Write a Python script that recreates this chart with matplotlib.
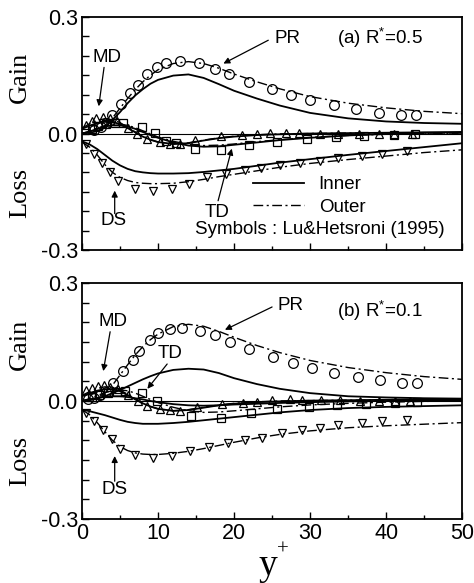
import numpy as np
import matplotlib
matplotlib.use("Agg")
import matplotlib.pyplot as plt
from matplotlib.lines import Line2D

plt.rcParams['font.family'] = ['Liberation Sans', 'DejaVu Sans']
plt.rcParams['mathtext.fontset'] = 'custom'
plt.rcParams['mathtext.rm'] = 'Liberation Sans'
plt.rcParams['mathtext.it'] = 'Liberation Sans'

# common y+ stations for the model curves
yl = [0, 1, 2, 3, 4, 5, 6, 7, 8, 9, 10, 12, 14, 16, 18, 20, 23, 26, 30, 35, 40, 45, 50]

# ---- (a) R*=0.5 ----
a_pr_in = [0.0, 0.002, 0.006, 0.015, 0.035, 0.055, 0.078, 0.098, 0.114, 0.128, 0.138, 0.149, 0.152,
           0.143, 0.127, 0.11, 0.09, 0.072, 0.053, 0.039, 0.031, 0.027, 0.025]
a_pr_out = [0.0, 0.003, 0.008, 0.02, 0.04, 0.065, 0.09, 0.113, 0.133, 0.15, 0.164, 0.18, 0.185,
            0.18, 0.168, 0.153, 0.133, 0.115, 0.095, 0.078, 0.066, 0.057, 0.051]
a_md_in = [0.012, 0.02, 0.027, 0.03, 0.03, 0.024, 0.014, 0.003, -0.008, -0.016, -0.022, -0.027, -0.025,
           -0.018, -0.012, -0.008, -0.004, -0.002, 0.0, 0.001, 0.002, 0.003, 0.003]
a_md_out = [0.014, 0.025, 0.034, 0.038, 0.036, 0.028, 0.016, 0.004, -0.007, -0.016, -0.022, -0.027, -0.024,
            -0.017, -0.011, -0.007, -0.003, -0.001, 0.0, 0.001, 0.001, 0.001, 0.001]
a_td_in = [0.0, 0.005, 0.012, 0.018, 0.021, 0.021, 0.018, 0.012, 0.004, -0.004, -0.011, -0.023, -0.031,
           -0.034, -0.033, -0.029, -0.023, -0.017, -0.011, -0.005, -0.001, 0.002, 0.004]
a_td_out = [0.0, 0.006, 0.014, 0.02, 0.024, 0.024, 0.021, 0.015, 0.007, -0.001, -0.009, -0.02, -0.028,
            -0.031, -0.03, -0.027, -0.021, -0.016, -0.01, -0.005, -0.002, 0.0, 0.001]
a_ds_in = [-0.02, -0.028, -0.04, -0.055, -0.07, -0.082, -0.091, -0.097, -0.1, -0.102, -0.103, -0.103, -0.102,
           -0.099, -0.095, -0.091, -0.083, -0.075, -0.066, -0.055, -0.045, -0.035, -0.025]
a_ds_out = [-0.022, -0.035, -0.055, -0.08, -0.1, -0.113, -0.121, -0.126, -0.128, -0.129, -0.129, -0.128, -0.124,
            -0.118, -0.111, -0.105, -0.096, -0.087, -0.077, -0.067, -0.058, -0.049, -0.042]

a_pr_sy = [1.6, 2.5, 3.2, 3.9, 5.1, 6.3, 7.3, 8.6, 9.9, 11.1, 12.9, 15.4, 17.5, 19.4, 21.9, 25.0, 27.5,
           30.0, 33.1, 36.1, 39.1, 41.9, 43.9]
a_pr_sv = [0.01, 0.017, 0.027, 0.048, 0.077, 0.104, 0.126, 0.152, 0.172, 0.181, 0.187, 0.181, 0.167,
           0.154, 0.133, 0.114, 0.099, 0.087, 0.073, 0.064, 0.054, 0.048, 0.047]
a_md_sy = [0.5, 1.3, 1.9, 2.8, 3.7, 4.6, 6.1, 7.2, 8.5, 10.3, 11.6, 12.9, 14.9, 18.3, 21.0, 23.0, 24.7,
           26.8, 28.6, 31.3, 33.7, 36.4, 39.0, 41.1, 43.4]
a_md_sv = [0.022, 0.033, 0.041, 0.043, 0.041, 0.032, 0.015, -0.002, -0.015, -0.023, -0.026, -0.026,
           -0.017, -0.006, -0.003, 0.0, 0.001, 0.001, 0.001, 0.0, 0.0, 0.0, 0.0, 0.0, 0.0]
a_td_sy = [1.3, 2.1, 3.2, 4.3, 5.4, 7.9, 9.6, 11.1, 12.3, 14.8, 18.3, 22.0, 25.6, 29.6, 33.4, 37.1, 41.0, 43.8]
a_td_sv = [0.011, 0.02, 0.025, 0.028, 0.026, 0.017, 0.001, -0.019, -0.024, -0.04, -0.042, -0.029, -0.022,
           -0.015, -0.01, -0.007, -0.003, -0.001]
a_ds_sy = [0.5, 1.6, 2.6, 3.7, 4.8, 7.0, 9.4, 11.8, 14.1, 16.5, 19.0, 21.4, 23.6, 26.1, 28.7, 31.3, 33.7,
           36.8, 39.4, 42.7]
a_ds_sv = [-0.027, -0.052, -0.075, -0.098, -0.122, -0.143, -0.148, -0.143, -0.13, -0.113, -0.105, -0.094,
           -0.089, -0.081, -0.075, -0.07, -0.062, -0.058, -0.053, -0.046]

# ---- (b) R*=0.1 ----
b_pr_in = [0.0, 0.002, 0.006, 0.012, 0.02, 0.028, 0.037, 0.046, 0.055, 0.063, 0.07, 0.079, 0.082,
           0.08, 0.071, 0.058, 0.043, 0.031, 0.02, 0.012, 0.009, 0.007, 0.006]
b_pr_out = [0.0, 0.003, 0.008, 0.02, 0.04, 0.066, 0.092, 0.117, 0.138, 0.156, 0.17, 0.189, 0.195,
            0.19, 0.177, 0.162, 0.141, 0.123, 0.103, 0.085, 0.072, 0.062, 0.055]
b_md_in = [0.012, 0.02, 0.026, 0.03, 0.03, 0.025, 0.015, 0.004, -0.006, -0.014, -0.02, -0.025, -0.023,
           -0.017, -0.011, -0.007, -0.003, -0.001, 0.001, 0.002, 0.003, 0.004, 0.004]
b_md_out = [0.014, 0.024, 0.032, 0.036, 0.035, 0.028, 0.017, 0.005, -0.006, -0.014, -0.02, -0.025, -0.022,
            -0.016, -0.01, -0.006, -0.002, 0.0, 0.001, 0.002, 0.002, 0.002, 0.002]
b_td_in = [0.0, 0.004, 0.008, 0.011, 0.012, 0.012, 0.01, 0.007, 0.004, 0.0, -0.003, -0.008, -0.011,
           -0.012, -0.011, -0.009, -0.007, -0.005, -0.003, -0.001, 0.0, 0.001, 0.002]
b_td_out = [0.0, 0.006, 0.014, 0.021, 0.026, 0.028, 0.026, 0.02, 0.012, 0.004, -0.004, -0.016, -0.025,
            -0.029, -0.028, -0.025, -0.02, -0.015, -0.01, -0.006, -0.003, -0.001, 0.0]
b_ds_in = [-0.022, -0.026, -0.031, -0.036, -0.042, -0.048, -0.053, -0.056, -0.058, -0.058, -0.058, -0.056,
           -0.053, -0.049, -0.045, -0.041, -0.035, -0.029, -0.023, -0.018, -0.015, -0.013, -0.011]
b_ds_out = [-0.022, -0.035, -0.055, -0.078, -0.1, -0.116, -0.126, -0.132, -0.135, -0.136, -0.136, -0.133,
            -0.128, -0.121, -0.113, -0.105, -0.094, -0.085, -0.076, -0.068, -0.063, -0.059, -0.055]

b_pr_sy = [0.8, 1.6, 2.4, 3.2, 4.1, 5.4, 6.7, 7.5, 8.9, 10.0, 11.6, 13.1, 15.5, 17.5, 19.5, 21.9, 25.1,
           27.7, 30.2, 33.2, 36.3, 39.2, 42.1, 44.0]
b_pr_sv = [0.004, 0.008, 0.014, 0.022, 0.045, 0.076, 0.103, 0.127, 0.154, 0.174, 0.184, 0.186, 0.178,
           0.167, 0.151, 0.131, 0.113, 0.097, 0.085, 0.07, 0.062, 0.053, 0.047, 0.045]
b_md_sy = [0.5, 1.3, 2.1, 2.9, 3.7, 4.8, 6.1, 7.4, 8.5, 10.3, 11.6, 12.9, 15.1, 18.4, 21.2, 23.0, 25.0,
           27.4, 28.9, 31.4, 33.9, 36.5, 39.0, 41.2, 43.2]
b_md_sv = [0.027, 0.034, 0.038, 0.04, 0.036, 0.03, 0.014, 0.0, -0.013, -0.021, -0.023, -0.025, -0.015,
           -0.008, -0.004, -0.002, 0.003, 0.004, 0.003, 0.003, 0.003, 0.0, 0.0, 0.0, 0.0]
b_td_sy = [1.3, 2.3, 3.4, 4.6, 5.7, 7.9, 9.9, 14.3, 18.3, 22.2, 25.7, 29.8, 33.5, 37.3, 41.2, 44.0]
b_td_sv = [0.011, 0.016, 0.02, 0.023, 0.026, 0.02, 0.001, -0.037, -0.043, -0.03, -0.021, -0.015, -0.011,
           -0.008, -0.006, -0.003]
b_ds_sy = [0.5, 1.6, 2.7, 3.9, 5.0, 7.0, 9.4, 11.9, 14.2, 16.7, 19.2, 21.5, 23.7, 26.3, 28.9, 31.3, 33.7,
           36.8, 39.4, 42.8]
b_ds_sv = [-0.03, -0.051, -0.074, -0.097, -0.121, -0.138, -0.144, -0.14, -0.127, -0.116, -0.106, -0.1,
           -0.093, -0.082, -0.074, -0.068, -0.062, -0.055, -0.051, -0.049]

yticks = [-0.3, -0.25, -0.2, -0.15, -0.1, -0.05, 0.0, 0.05, 0.1, 0.15, 0.2, 0.25, 0.3]
ylabels = ['-0.3', '', '', '', '', '', '0.0', '', '', '', '', '', '0.3']
xticks = [0, 10, 20, 30, 40, 50]
xminor = [5, 15, 25, 35, 45]

DASHDOT = (0, (7, 2.5, 1.5, 2.5))
SERIF = 'Liberation Serif'
fs = 13.5


def panel(ax, lines_in, lines_out, syms, label, label_y):
    ax.axhline(0, color='k', lw=0.8)
    for v in lines_in:
        ax.plot(yl, v, color='k', lw=1.3)
    for v in lines_out:
        ax.plot(yl, v, color='k', lw=1.0, ls=DASHDOT)
    for (xs, vs, m, ms) in syms:
        ax.plot(xs, vs, ls='none', marker=m, ms=ms, mfc='none', mec='k', mew=0.9)
    ax.set_xlim(0, 50)
    ax.set_ylim(-0.3, 0.3)
    ax.set_yticks(yticks)
    ax.set_yticklabels(ylabels)
    ax.set_xticks(xticks)
    ax.set_xticks(xminor, minor=True)
    ax.tick_params(direction='in', length=5, width=1.0, labelsize=15.5, right=False, top=False, pad=3)
    ax.tick_params(which='minor', direction='in', length=3, width=1.0)
    for s in ax.spines.values():
        s.set_linewidth(1.3)
    ax.text(33.6, label_y, label, fontsize=fs, va='center', ha='left')


fig = plt.figure(figsize=(4.74, 5.83), dpi=100)
ax1 = fig.add_axes([0.173, 0.571, 0.802, 0.400])
ax2 = fig.add_axes([0.173, 0.1098, 0.802, 0.4048])

panel(ax1, [a_pr_in, a_md_in, a_td_in, a_ds_in], [a_pr_out, a_md_out, a_td_out, a_ds_out],
      [(a_pr_sy, a_pr_sv, 'o', 7.0), (a_md_sy, a_md_sv, '^', 6.3),
       (a_td_sy, a_td_sv, 's', 5.3), (a_ds_sy, a_ds_sv, 'v', 6.3)], '(a) R$^{*}$=0.5', 0.245)
ax1.set_xticklabels([])

panel(ax2, [b_pr_in, b_md_in, b_td_in, b_ds_in], [b_pr_out, b_md_out, b_td_out, b_ds_out],
      [(b_pr_sy, b_pr_sv, 'o', 7.0), (b_md_sy, b_md_sv, '^', 6.3),
       (b_td_sy, b_td_sv, 's', 5.3), (b_ds_sy, b_ds_sv, 'v', 6.3)], '(b) R$^{*}$=0.1', 0.229)

arrow = dict(arrowstyle='-|>', color='k', lw=0.9, mutation_scale=9, shrinkA=0, shrinkB=0)
# annotations panel (a)
ax1.text(27.0, 0.245, 'PR', fontsize=fs, ha='center', va='center')
ax1.annotate('', xy=(18.6, 0.18), xytext=(24.5, 0.24), arrowprops=arrow)
ax1.text(3.3, 0.196, 'MD', fontsize=fs, ha='center', va='center')
ax1.annotate('', xy=(2.2, 0.07), xytext=(2.9, 0.17), arrowprops=arrow)
ax1.text(4.1, -0.224, 'DS', fontsize=fs, ha='center', va='center')
ax1.annotate('', xy=(4.3, -0.147), xytext=(4.3, -0.206), arrowprops=arrow)
ax1.text(17.8, -0.204, 'TD', fontsize=fs, ha='center', va='center')
ax1.annotate('', xy=(19.7, -0.039), xytext=(17.9, -0.173), arrowprops=arrow)
ax1.text(14.8, -0.247, 'Symbols : Lu&Hetsroni (1995)', fontsize=fs, ha='left', va='center')
handles = [Line2D([], [], color='k', lw=1.3), Line2D([], [], color='k', lw=1.0, ls=DASHDOT)]
ax1.legend(handles, ['Inner', 'Outer'], loc='upper left', bbox_to_anchor=(0.45, 0.318),
           frameon=False, fontsize=fs, handlelength=2.7, handletextpad=0.8,
           labelspacing=0.3, borderpad=0, borderaxespad=0)

# annotations panel (b)
ax2.text(27.4, 0.244, 'PR', fontsize=fs, ha='center', va='center')
ax2.annotate('', xy=(18.8, 0.181), xytext=(25.0, 0.239), arrowprops=arrow)
ax2.text(4.1, 0.201, 'MD', fontsize=fs, ha='center', va='center')
ax2.annotate('', xy=(2.8, 0.076), xytext=(3.7, 0.176), arrowprops=arrow)
ax2.text(11.6, 0.12, 'TD', fontsize=fs, ha='center', va='center')
ax2.annotate('', xy=(8.6, 0.031), xytext=(11.2, 0.094), arrowprops=arrow)
ax2.text(4.3, -0.224, 'DS', fontsize=fs, ha='center', va='center')
ax2.annotate('', xy=(4.3, -0.14), xytext=(4.3, -0.204), arrowprops=arrow)

# side labels
for ax in (ax1, ax2):
    ax.text(-0.163, 0.74, 'Gain', transform=ax.transAxes, rotation=90, family=SERIF,
            fontsize=19, ha='center', va='center')
    ax.text(-0.163, 0.245, 'Loss', transform=ax.transAxes, rotation=90, family=SERIF,
            fontsize=19, ha='center', va='center')

fig.text(0.565, 0.030, 'y', family=SERIF, fontsize=27, ha='center', va='center')
fig.text(0.597, 0.057, '+', family=SERIF, fontsize=15, ha='center', va='center')

fig.savefig('out.png', dpi=100)
